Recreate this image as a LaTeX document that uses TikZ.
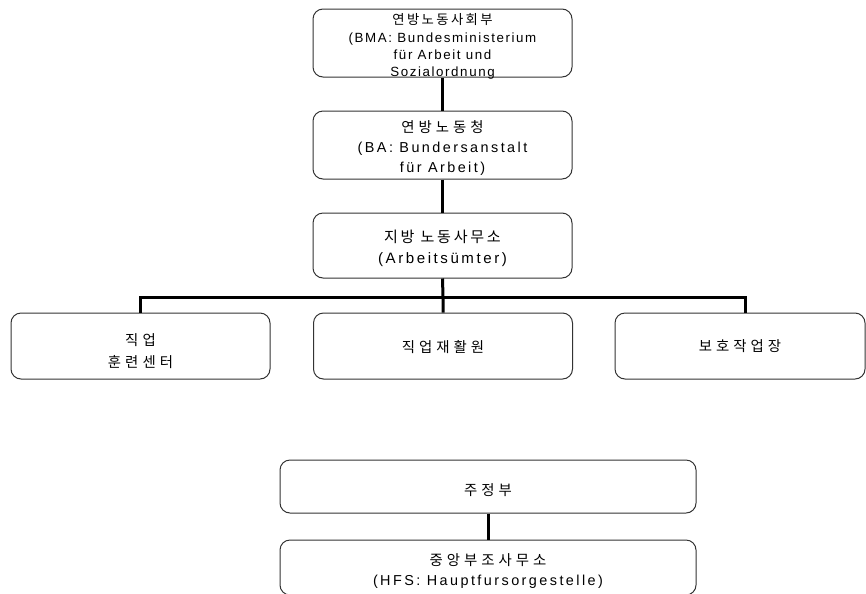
\documentclass[tikz,border=0pt]{standalone}
\usepackage{fontspec}
\setmainfont{Liberation Sans}[LetterSpace=17]
\newfontfamily\latsmall{Liberation Sans}[LetterSpace=12]
\newfontfamily\kr{Noto Sans CJK KR}[LetterSpace=28]
\newfontfamily\krsmall{Noto Sans CJK KR}[LetterSpace=18]
\newcommand{\ml}[2]{\raisebox{#1}[0pt][0pt]{\vbox{\halign{\hfil##\hfil\cr#2\crcr}}}}
\begin{document}
\begin{tikzpicture}[x=0.75pt,y=-0.75pt,
  box/.style={draw=black!80, line width=0.75pt, rounded corners=7.5pt,
    inner sep=0pt, font=\fontsize{10.8}{15}\selectfont},
  conn/.style={line width=2.25pt, line join=miter}]
\useasboundingbox (0,0) rectangle (866,593);
\clip (0,0) rectangle (866,593);
\node[box, minimum width=194.25pt, minimum height=51pt,
  font=\fontsize{10}{13}\selectfont\latsmall] (b1) at (442.5,43)
  {\ml{-25.4pt}{\krsmall 연방노동사회부\cr (BMA: Bundesministerium\cr für Arbeit und\cr Sozialordnung}};
\node[box, minimum width=194.25pt, minimum height=51pt] (b2) at (442.5,145)
  {\ml{-20.5pt}{\kr 연방노동청\cr (BA: Bundersanstalt\cr für Arbeit)}};
\node[box, minimum width=194.25pt, minimum height=48.75pt,
  font=\fontsize{11.3}{15.75}\selectfont] (b3) at (442.5,245.5)
  {\ml{-13.6pt}{\krsmall 지방 노동사무소\cr (Arbeitsümter)}};
\node[box, minimum width=194.25pt, minimum height=49.5pt,
  font=\fontsize{10.8}{16.5}\selectfont] (b4) at (140.5,346)
  {\ml{-16pt}{\kr 직업\cr \kr 훈련센터}};
\node[box, minimum width=194.25pt, minimum height=49.5pt] (b5) at (443,346)
  {\ml{-5pt}{\kr 직업재활원}};
\node[box, minimum width=187.5pt, minimum height=49.5pt] (b6) at (740,346)
  {\ml{-4pt}{\kr 보호작업장}};
\node[box, minimum width=312pt, minimum height=39.75pt] (b7) at (488,486.5)
  {\ml{-6.6pt}{\kr 주정부}};
\node[box, minimum width=312pt, minimum height=41.25pt] (b8) at (488,567.5)
  {\ml{-13.4pt}{\kr 중앙부조사무소\cr (HFS: Hauptfursorgestelle)}};
\coordinate (jl) at (140.5,297);
\coordinate (jm) at (443,297);
\coordinate (jr) at (745,297);
\draw[conn] (b1.south) -- (b2.north);
\draw[conn] (b2.south) -- (b3.north);
\draw[conn] (b3.south) -- (jm) -- (b5.north);
\draw[conn] (b4.north) -- (jl) -- (jr) -- (jr |- b6.north);
\draw[conn] (b7.south) -- (b8.north);
\end{tikzpicture}
\end{document}
